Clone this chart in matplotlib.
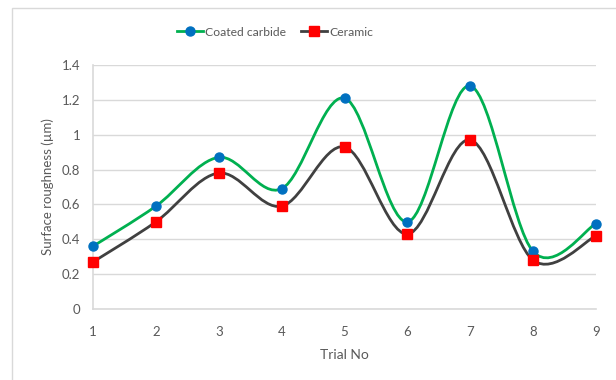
import matplotlib.pyplot as plt
import numpy as np
from matplotlib.lines import Line2D
from matplotlib.patches import PathPatch, Rectangle
from matplotlib.path import Path

trials = [1, 2, 3, 4, 5, 6, 7, 8, 9]
coated_carbide = [0.36, 0.59, 0.87, 0.69, 1.21, 0.50, 1.28, 0.33, 0.49]
ceramic = [0.27, 0.50, 0.78, 0.59, 0.93, 0.43, 0.97, 0.28, 0.42]
y_ticks = [0, 0.2, 0.4, 0.6, 0.8, 1, 1.2, 1.4]
y_tick_labels = ["0", "0.2", "0.4", "0.6", "0.8", "1", "1.2", "1.4"]

TEXT = "#595959"
GRID = "#D9D9D9"
plt.rcParams["font.family"] = ["Lato", "DejaVu Sans"]


def smooth_path(x, y):
    # cubic Bezier segments through every point (Catmull-Rom tangents)
    p = np.column_stack([x, y]).astype(float)
    ext = np.vstack([p[0], p, p[-1]])
    verts = [p[0]]
    codes = [Path.MOVETO]
    for i in range(len(p) - 1):
        c1 = p[i] + (ext[i + 2] - ext[i]) / 6
        c2 = p[i + 1] - (ext[i + 3] - ext[i + 1]) / 6
        verts += [c1, c2, p[i + 1]]
        codes += [Path.CURVE4] * 3
    return Path(verts, codes)


fig = plt.figure(figsize=(6.16, 3.80), dpi=100)
fig.patches.append(
    Rectangle((12 / 616, -0.1), 1.2, 1 - 8 / 380 + 0.1, transform=fig.transFigure,
              fill=False, edgecolor="#D9D9D9", lw=1)
)

ax = fig.add_axes((93 / 616, 1 - 309 / 380, (596 - 93) / 616, (309 - 65) / 380))
ax.set_xlim(1, 9)
ax.set_ylim(0, 1.4)

series = [
    (coated_carbide, "#00B050", "#0070C0", "o", 6.5, "Coated carbide"),
    (ceramic, "#404040", "#FF0000", "s", 6.5, "Ceramic"),
]
handles = []
for values, lc, mc, mk, ms, name in series:
    ax.add_patch(PathPatch(smooth_path(trials, values), fill=False, edgecolor=lc,
                           lw=2, zorder=3, clip_on=False))
    ax.plot(trials, values, linestyle="none", marker=mk, markersize=ms,
            color=mc, zorder=4, clip_on=False)
    handles.append(Line2D([], [], color=lc, lw=2, marker=mk, markersize=ms,
                          markerfacecolor=mc, markeredgecolor=mc, label=name))

ax.set_xticks(trials)
ax.set_yticks(y_ticks, y_tick_labels)
ax.grid(axis="y", color=GRID, lw=1)
ax.set_axisbelow(True)
for side in ["top", "right"]:
    ax.spines[side].set_visible(False)
for side in ["left", "bottom"]:
    ax.spines[side].set_color(GRID)
    ax.spines[side].set_linewidth(1.2)
ax.tick_params(length=0, colors=TEXT, labelsize=9.5)
ax.tick_params(axis="x", pad=12)
ax.tick_params(axis="y", pad=9)

ax.set_xlabel("Trial No", color=TEXT, fontsize=10, labelpad=8)
ax.set_ylabel("Surface roughness (µm)", color=TEXT, fontsize=9.5, labelpad=6)

fig.legend(handles=handles, loc="center", bbox_to_anchor=(0.446, 1 - 32 / 380),
           ncol=2, frameon=False, fontsize=8.7, handlelength=2.2,
           handletextpad=0.15, columnspacing=1.2, labelcolor=TEXT)

fig.savefig("out.png", dpi=100)
